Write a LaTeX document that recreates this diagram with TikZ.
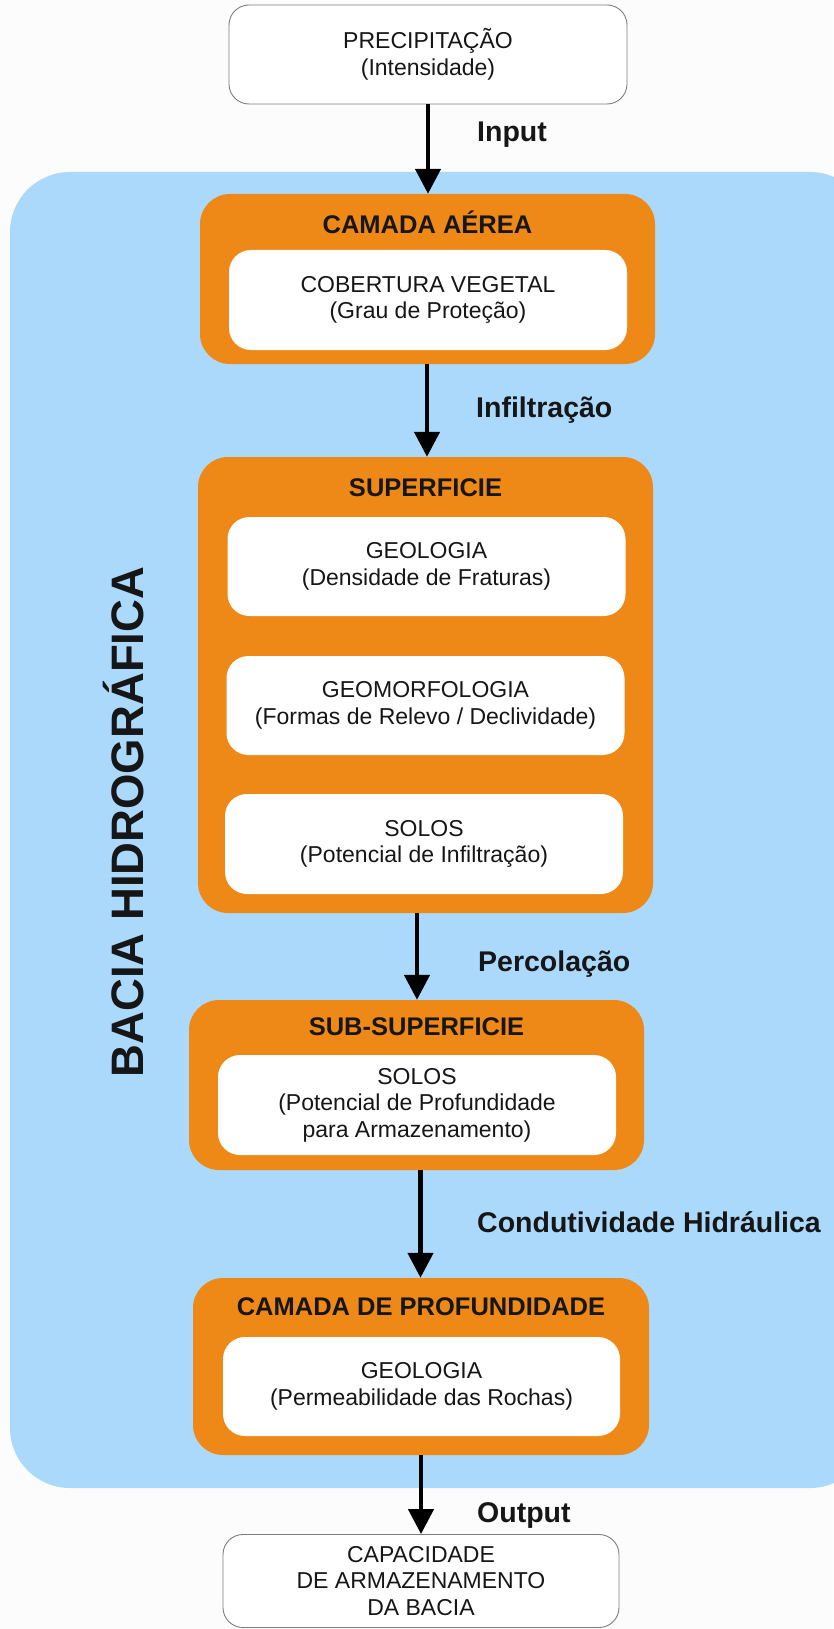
\documentclass[tikz,border=0pt]{standalone}
\usepackage{fontspec}
\setmainfont{Liberation Sans}
\usetikzlibrary{arrows.meta}

\definecolor{pagebg}{RGB}{252,252,252}
\definecolor{basinblue}{RGB}{171,217,252}
\definecolor{layerorange}{RGB}{238,137,23}
\definecolor{framegray}{RGB}{125,125,125}
\definecolor{ink}{RGB}{22,22,22}

\tikzset{
  basin/.style={fill=basinblue, rounded corners=60pt, inner sep=0pt,
    minimum width=860pt, minimum height=1316pt},
  layer/.style={fill=layerorange, rounded corners=30pt, inner sep=0pt},
  factorbox/.style={fill=white, rounded corners=22pt, inner sep=0pt,
    minimum width=398pt, minimum height=99pt, align=center, text=ink,
    font=\fontsize{23}{26.5}\selectfont},
  endbox/.style={fill=white, draw=framegray, line width=0.9pt,
    rounded corners=20pt, inner sep=0pt, align=center, text=ink,
    font=\fontsize{23}{26.5}\selectfont},
  layertitle/.style={inner sep=0pt, text=ink,
    font=\bfseries\fontsize{25.5}{30}\selectfont},
  flowlabel/.style={anchor=west, inner sep=0pt, text=ink,
    font=\bfseries\fontsize{28.5}{32}\selectfont},
  flow/.style={line width=4.5pt, draw=black,
    -{Triangle[width=25pt,length=25pt]}},
}

\begin{document}
\begin{tikzpicture}[x=1pt, y=-1pt]
  % page
  \fill[pagebg] (0,0) rectangle (833,1629);
  \useasboundingbox (0,0) rectangle (833,1629);

  % catchment area
  \node[basin] (bacia) at (440,830) {};
  \node[rotate=90, inner sep=0pt, text=ink,
        font=\bfseries\fontsize{45.5}{50}\selectfont] (baciatxt) at (124,822)
        {BACIA HIDROGRÁFICA};

  % input
  \node[endbox, minimum width=398pt, minimum height=99pt] (prec) at (428,54.5)
        {PRECIPITAÇÃO\\(Intensidade)};

  % aerial layer
  \node[layer, minimum width=455pt, minimum height=170pt] (aerea) at (427.5,279) {};
  \node[layertitle] (aereat) at (427.5,222) {CAMADA AÉREA};
  \node[factorbox, minimum height=100pt] (cob) at (428,300)
        {COBERTURA VEGETAL\\(Grau de Proteção)};

  % surface layer
  \node[layer, minimum width=455pt, minimum height=456pt] (sup) at (425.5,685) {};
  \node[layertitle] (supt) at (425.5,488) {SUPERFICIE};
  \node[factorbox] (geo1) at (426.5,566.5)
        {GEOLOGIA\\(Densidade de Fraturas)};
  \node[factorbox] (geom) at (425.5,705.5)
        {GEOMORFOLOGIA\\(Formas de Relevo / Declividade)};
  \node[factorbox, minimum height=100pt] (solos1) at (424,844)
        {SOLOS\\(Potencial de Infiltração)};

  % subsurface layer
  \node[layer, minimum width=455pt, minimum height=170pt] (sub) at (416.5,1085) {};
  \node[layertitle] (subt) at (416.5,1027) {SUB-SUPERFICIE};
  \node[factorbox, minimum height=100pt] (solos2) at (417,1105)
        {SOLOS\\(Potencial de Profundidade\\para Armazenamento)};

  % deep layer
  \node[layer, minimum width=456pt, minimum height=177pt] (prof) at (421,1366.5) {};
  \node[layertitle] (proft) at (421,1307) {CAMADA DE PROFUNDIDADE};
  \node[factorbox, minimum width=397pt] (geo2) at (421.5,1386.5)
        {GEOLOGIA\\(Permeabilidade das Rochas)};

  % output
  \node[endbox, minimum width=396pt, minimum height=93pt] (cap) at (421,1581)
        {CAPACIDADE\\DE ARMAZENAMENTO\\DA BACIA};

  % flows
  \draw[flow] (prec.south) -- (prec.south |- aerea.north);
  \draw[flow] (aerea.south -| 427,0) -- (sup.north -| 427,0);
  \draw[flow] (sup.south -| 417,0) -- (sub.north -| 417,0);
  \draw[flow] (sub.south -| 420.5,0) -- (prof.north -| 420.5,0);
  \draw[flow] (prof.south) -- (cap.north);

  % flow labels
  \node[flowlabel] (lin)  at (477,135)  {Input};
  \node[flowlabel] (linf) at (476,410)  {Infiltração};
  \node[flowlabel] (lper) at (478,964)  {Percolação};
  \node[flowlabel] (lcon) at (477,1222) {Condutividade Hidráulica};
  \node[flowlabel] (lout) at (477,1515) {Output};
\end{tikzpicture}
\end{document}
